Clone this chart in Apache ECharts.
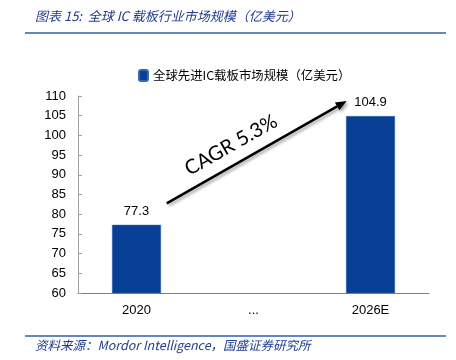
<!DOCTYPE html>
<html><head><meta charset="utf-8">
<script src="https://cdn.jsdelivr.net/npm/echarts@6/dist/echarts.min.js"></script>
<style>html,body{margin:0;padding:0;background:#fff}#c{width:456px;height:360px}</style>
</head><body><div id="c"></div>
<script>
var categories = ['2020', '...', '2026E'];
var marketSize = [77.3, '-', 104.9];
var seriesName = '全球先进IC载板市场规模（亿美元）';
var titleText = '图表 15:  全球 IC 载板行业市场规模（亿美元）';
var sourceText = '资料来源：Mordor Intelligence，国盛证券研究所';
var cagrText = 'CAGR 5.3%';

var chart = echarts.init(document.getElementById('c'));
var cjk = '"Noto Sans CJK SC", "Liberation Sans", sans-serif';
var sx = 166.7, sy = 203.3, tx = 346.7, ty = 101;
var dx = tx - sx, dy = ty - sy, L = Math.sqrt(dx*dx+dy*dy), ux = dx/L, uy = dy/L;
var bx = tx - 11*ux, by = ty - 11*uy, px = -uy, py = ux;
var shadow = {shadowBlur: 3, shadowOffsetX: 2, shadowOffsetY: 2, shadowColor: 'rgba(0,0,0,0.35)'};
chart.setOption({
  animation: false,
  grid: {left: 78, top: 96, right: 27, bottom: 67},
  legend: {
    data: [seriesName], left: 133, top: 64, itemWidth: 9, itemHeight: 11, itemGap: 4,
    textStyle: {fontFamily: cjk, fontSize: 12.4, color: '#000'}
  },
  xAxis: {
    type: 'category', data: categories,
    axisLine: {lineStyle: {color: '#808080'}},
    axisTick: {inside: true, length: 4, lineStyle: {color: '#a0a0a0'}},
    axisLabel: {fontFamily: 'Liberation Sans', fontSize: 13, color: '#000', margin: 11}
  },
  yAxis: {
    type: 'value', min: 60, max: 110, interval: 5,
    splitLine: {show: false},
    axisLine: {show: true, lineStyle: {color: '#a0a0a0'}},
    axisTick: {show: true, inside: true, length: 4, lineStyle: {color: '#a0a0a0'}},
    axisLabel: {fontFamily: 'Liberation Sans', fontSize: 13, color: '#000', margin: 12}
  },
  series: [{
    name: seriesName, type: 'bar', data: marketSize, barWidth: 49,
    itemStyle: {color: '#063f95', borderColor: '#3a66b0', borderWidth: 0.5},
    label: {show: true, position: 'top', distance: 7, fontFamily: 'Liberation Sans', fontSize: 13, color: '#000'}
  }],
  graphic: [
    {type: 'text', left: 35, top: 10, style: {text: titleText, font: 'italic 13px ' + cjk, fill: '#1f3c8c'}},
    {type: 'line', shape: {x1: 25, y1: 33, x2: 446, y2: 33}, style: {stroke: '#2f5ea8', lineWidth: 1.5}},
    {type: 'line', shape: {x1: 25, y1: 336, x2: 446, y2: 336}, style: {stroke: '#2f5ea8', lineWidth: 1.5}},
    {type: 'text', left: 35, top: 339, style: {text: sourceText, font: 'italic 12.5px ' + cjk, fill: '#1f3c8c'}},
    {type: 'line', shape: {x1: sx, y1: sy, x2: bx, y2: by}, style: Object.assign({stroke: '#000', lineWidth: 2.5}, shadow)},
    {type: 'polygon', shape: {points: [[tx, ty], [bx + 4.5*px, by + 4.5*py], [bx - 4.5*px, by - 4.5*py]]}, style: Object.assign({fill: '#000'}, shadow)},
    {type: 'text', x: 231, y: 145, rotation: Math.atan2(-dy, dx),
     style: {text: cagrText, font: '20px Lato', fill: '#000', textAlign: 'center', textVerticalAlign: 'middle'}}
  ]
});
</script></body></html>
